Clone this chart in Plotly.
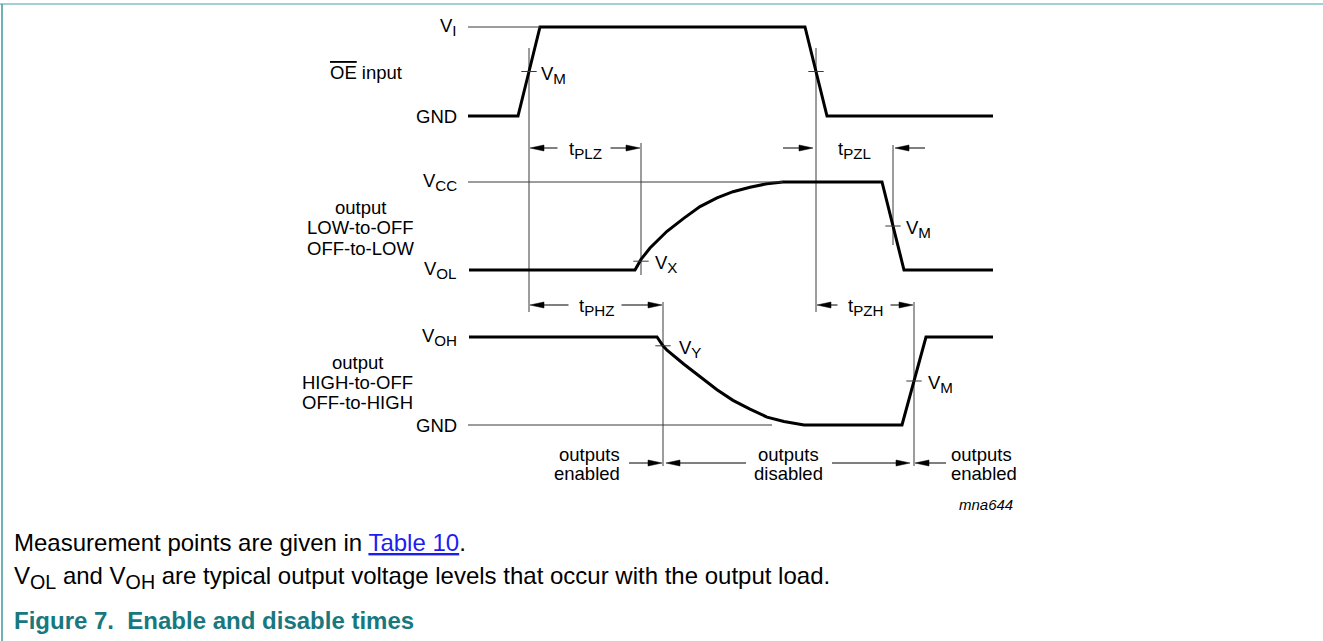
import plotly.graph_objects as go


def sub(t):
    return "<sub><span style='font-size:117%'>" + t + "</span></sub>"


# ---------------------------------------------------------------- data
# time axis in diagram units; levels normalised 0 (low rail) .. 1 (high rail)
oe_time = [468, 518, 540, 805, 827, 993]
oe_level = [0, 0, 1, 1, 0, 0]

lz_time = [469, 635, 641, 650, 667, 684, 700, 717, 733, 750, 767, 783, 882, 904, 993]
lz_level = [0, 0, 0.12, 0.25, 0.44, 0.59, 0.72, 0.82, 0.89, 0.94, 0.98, 1, 1, 0, 0]

hz_time = [469, 657, 663, 667, 684, 700, 717, 733, 750, 767, 784, 804, 902, 926, 993]
hz_level = [1, 1, 0.90, 0.85, 0.69, 0.55, 0.40, 0.28, 0.18, 0.09, 0.04, 0, 0, 1, 1]

level_labels = [["GND", "V" + sub("I")],
                ["V" + sub("OL"), "V" + sub("CC")],
                ["GND", "V" + sub("OH")]]
signal_names = [["<span style='text-decoration:overline'>OE</span> input"],
                ["output", "LOW-to-OFF", "OFF-to-LOW"],
                ["output", "HIGH-to-OFF", "OFF-to-HIGH"]]

# reference level lines: row, level, end time
ref_row = [0, 1, 2]
ref_level = [1, 1, 0]
ref_end = [540, 783, 772]

# measurement points
mp_time = [529, 816, 641, 893, 663, 914]
mp_row = [0, 0, 1, 1, 2, 2]
mp_level = [0.5, 0.5, 0.10, 0.5, 0.90, 0.5]
mp_label = ["V" + sub("M"), "", "V" + sub("X"), "V" + sub("M"), "V" + sub("Y"), "V" + sub("M")]

# timing intervals
t_names = ["t" + sub("PLZ"), "t" + sub("PZL"), "t" + sub("PHZ"), "t" + sub("PZH")]
t_start = [529, 816, 529, 816]
t_end = [641, 893, 663, 914]
t_outside = [False, True, False, False]

# output status
status_bounds = [663, 914]
status_top = ["outputs", "outputs", "outputs"]
status_bottom = ["enabled", "disabled", "enabled"]

diagram_id = "mna644"
caption_lines = [
    "Measurement points are given in <span style='color:#1d1df0'><u>Table 10</u></span>.",
    "V" + sub("OL") + " and V" + sub("OH") + " are typical output voltage levels that occur with the output load.",
    "<b>Figure 7.\u00a0 Enable and disable times</b>",
]

# ---------------------------------------------------------------- layout constants
W, H = 1323, 641
FONT = "Liberation Sans, Arial, Helvetica, sans-serif"
FS = 18.5
ROW_BASE = [116, 270, 425]
ROW_TOP = [27, 182, 337]
ROW_AX = ["y2", "y3", "y4"]
LABEL_RIGHT = 459
REF_START = 468
THIN = "#3a3a3a"
TIMING_Y = [148, 148, 305, 305]
STATUS_Y = 463
HEAD_LEN, HEAD_HALF = 14, 3

fig = go.Figure()


def row_range(i):
    span = H / (ROW_BASE[i] - ROW_TOP[i])
    r0 = -span * (1 - ROW_BASE[i] / H)
    return [r0, r0 + span]


# waveforms
for i, (t, v) in enumerate([(oe_time, oe_level), (lz_time, lz_level), (hz_time, hz_level)]):
    fig.add_trace(go.Scatter(x=t, y=v, yaxis=ROW_AX[i], mode="lines",
                             line=dict(color="black", width=3), hoverinfo="skip"))

# reference level lines
for r, lv, te in zip(ref_row, ref_level, ref_end):
    fig.add_trace(go.Scatter(x=[REF_START, te], y=[lv, lv], yaxis=ROW_AX[r], mode="lines",
                             line=dict(color=THIN, width=1), hoverinfo="skip"))

# measurement ticks
for r in range(3):
    xs = [t for t, rr in zip(mp_time, mp_row) if rr == r]
    ys = [l for l, rr in zip(mp_level, mp_row) if rr == r]
    fig.add_trace(go.Scatter(x=xs, y=ys, yaxis=ROW_AX[r], mode="markers",
                             marker=dict(symbol="line-ew", size=11,
                                         line=dict(color=THIN, width=1)),
                             hoverinfo="skip"))

# vertical event lines (pixel layer)
vlines = [(529, 48, 312), (816, 48, 312), (641, 143, 275), (893, 145, 245),
          (663, 302, 466), (914, 302, 466)]
vx, vy = [], []
for x, y0, y1 in vlines:
    vx += [x, x, None]
    vy += [y0, y1, None]
fig.add_trace(go.Scatter(x=vx, y=vy, mode="lines", line=dict(color=THIN, width=1),
                         hoverinfo="skip"))

# arrows
ax_, ay_, hx, hy = [], [], [], []


def arrow(tip, tail, y):
    d = 1 if tip > tail else -1
    ax_.extend([tail, tip - d * HEAD_LEN + d, None])
    ay_.extend([y, y, None])
    hx.extend([tip, tip - d * HEAD_LEN, tip - d * HEAD_LEN, tip, None])
    hy.extend([y, y - HEAD_HALF, y + HEAD_HALF, y, None])


annots = []
TW = 37
for name, a, b, out, y in zip(t_names, t_start, t_end, t_outside, TIMING_Y):
    c = (a + b) / 2
    if out:
        arrow(a - 3, a - 33, y)
        arrow(b + 2, b + 32, y)
    else:
        arrow(a + 1, c - TW / 2 - 9, y)
        arrow(b - 1, c + TW / 2 + 7, y)
    annots.append(dict(x=c, y=y + 2, text=name, xanchor="center", yanchor="middle"))

# status arrows
s0, s1 = status_bounds
arrow(s0 - 1, s0 - 34, STATUS_Y)
arrow(s0 + 3, s0 + 83, STATUS_Y)
arrow(s1 - 4, s1 - 82, STATUS_Y)
arrow(s1 + 1, s1 + 32, STATUS_Y)
status_x = [(s0 - 41, "right"), ((s0 + s1) / 2 + 0, "center"), (s1 + 35, "left")]
for (x, anc), t1, t2 in zip(status_x, status_top, status_bottom):
    annots.append(dict(x=x, y=454, text=t1, xanchor=anc, yanchor="middle"))
    annots.append(dict(x=x, y=473, text=t2, xanchor=anc, yanchor="middle"))

fig.add_trace(go.Scatter(x=ax_, y=ay_, mode="lines", line=dict(color="black", width=1),
                         hoverinfo="skip"))
fig.add_trace(go.Scatter(x=hx, y=hy, mode="lines", fill="toself", fillcolor="black",
                         line=dict(color="black", width=0.5), hoverinfo="skip"))

# level labels
for r in range(3):
    for lv, txt in zip([0, 1], level_labels[r]):
        annots.append(dict(x=LABEL_RIGHT, y=lv, yref=ROW_AX[r], text=txt,
                           xanchor="right", yanchor="middle"))

# signal names
name_pos = [(366, [72]), (360, [207, 227, 248]), (357, [362, 382, 402])]
for (cx, ys), lines in zip(name_pos, signal_names):
    for y, txt in zip(ys, lines):
        annots.append(dict(x=cx, y=y, text=txt, xanchor="center", yanchor="middle"))

# measurement labels
mp_dx = [10, 0, 12, 11, 14, 12]
for t, r, lv, lab, dx in zip(mp_time, mp_row, mp_level, mp_label, mp_dx):
    if lab:
        annots.append(dict(x=t + dx, y=lv, yref=ROW_AX[r], text=lab,
                           xanchor="left", yanchor="middle", yshift=-3))

annots.append(dict(x=1015, y=504, text="<i>" + diagram_id + "</i>", xanchor="right",
                   yanchor="middle", font=dict(size=15)))

# caption
cap_y = [542, 577, 620]
for i, (txt, y) in enumerate(zip(caption_lines, cap_y)):
    annots.append(dict(x=12, y=y, text=txt, xanchor="left", yanchor="middle",
                       font=dict(size=24, color="#17787e" if i == 2 else "black")))

for a in annots:
    a.setdefault("xref", "x")
    a.setdefault("yref", "y")
    a.setdefault("showarrow", False)
    a.setdefault("font", dict(size=FS))
    a["font"].setdefault("family", FONT)
    a["font"].setdefault("color", "black")
fig.update_layout(annotations=annots)

# frame lines
fig.add_shape(type="line", xref="paper", yref="paper", x0=0, x1=1, y0=1 - 4 / H, y1=1 - 4 / H,
              line=dict(color="#a3d0d4", width=2))
fig.add_shape(type="line", xref="paper", yref="paper", x0=2 / W, x1=2 / W, y0=0, y1=1 - 4 / H,
              line=dict(color="#3f979c", width=1.5))

hidden = dict(visible=False, showgrid=False, zeroline=False, fixedrange=True)
layout_axes = dict(
    xaxis=dict(range=[0, W], **hidden),
    yaxis=dict(range=[H, 0], **hidden),
)
for i, ax in enumerate(ROW_AX):
    layout_axes["yaxis" + ax[1:]] = dict(range=row_range(i), overlaying="y", **hidden)

fig.update_layout(
    width=W, height=H, margin=dict(l=0, r=0, t=0, b=0),
    paper_bgcolor="white", plot_bgcolor="white", showlegend=False,
    font=dict(family=FONT, size=FS, color="black"),
    **layout_axes,
)

fig.write_html("out.html", config={"displayModeBar": False},
               post_script="document.body.style.margin='0';document.body.style.overflow='hidden';")
